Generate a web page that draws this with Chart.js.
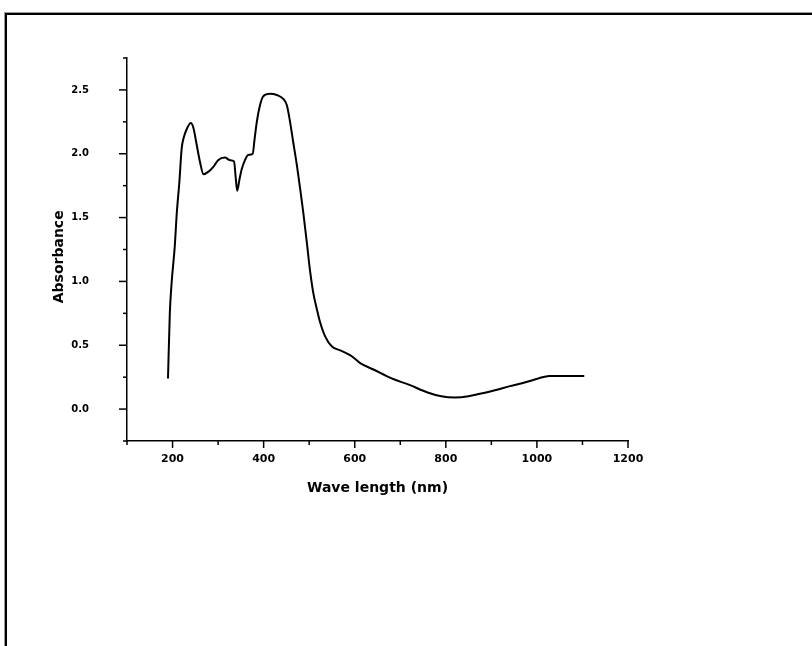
<!DOCTYPE html>
<html>
<head>
<meta charset="utf-8">
<script src="https://cdn.jsdelivr.net/npm/chart.js@4/dist/chart.umd.min.js"></script>
<style>
  html, body { margin: 0; padding: 0; background: #fff; }
  #wrap { position: relative; width: 812px; height: 646px; overflow: hidden; background: #fff; }
  #frame { position: absolute; left: 5px; top: 13px; width: 900px; height: 700px;
           border-left: 2px solid #000; border-top: 2px solid #000;
           box-shadow: -1px -1px 0 #9a9a9a; }
  canvas { position: absolute; left: 0; top: 0; }
</style>
</head>
<body>
<div id="wrap">
  <div id="frame"></div>
  <canvas id="c" width="812" height="646"></canvas>
</div>
<script>
// ---- data ----
const wavelength = [190, 194, 198, 205, 209, 215, 220, 224, 232, 240, 246, 253, 260, 268, 279, 290, 300, 315, 326, 335, 339, 342, 347, 352, 359, 366, 376, 380, 385, 392, 399, 414, 429, 443, 451, 458, 465, 473, 480, 487, 495, 502, 509, 517, 524, 535, 550, 568, 580, 595, 612, 641, 681, 720, 760, 790, 820, 850, 875, 910, 941, 975, 1003, 1027, 1060, 1104];
const absorbance = [0.24, 0.75, 0.99, 1.28, 1.52, 1.78, 2.04, 2.12, 2.20, 2.24, 2.20, 2.07, 1.94, 1.84, 1.86, 1.90, 1.95, 1.97, 1.95, 1.94, 1.80, 1.71, 1.80, 1.88, 1.95, 1.99, 2.00, 2.11, 2.25, 2.38, 2.45, 2.47, 2.46, 2.43, 2.38, 2.25, 2.09, 1.91, 1.73, 1.54, 1.30, 1.08, 0.91, 0.78, 0.68, 0.57, 0.49, 0.46, 0.44, 0.41, 0.36, 0.31, 0.24, 0.19, 0.13, 0.10, 0.09, 0.10, 0.12, 0.15, 0.18, 0.21, 0.24, 0.26, 0.26, 0.26];

const xTickValues = [100, 200, 300, 400, 500, 600, 700, 800, 900, 1000, 1100, 1200];
const xTickLabels = ['', '200', '', '400', '', '600', '', '800', '', '1000', '', '1200'];
const yTickValues = [-0.25, 0, 0.25, 0.5, 0.75, 1.0, 1.25, 1.5, 1.75, 2.0, 2.25, 2.5, 2.75];
const yTickLabels = ['', '0.0', '', '0.5', '', '1.0', '', '1.5', '', '2.0', '', '2.5', ''];

const xTitle = 'Wave length (nm)';
const yTitle = 'Absorbance';

const points = wavelength.map((w, i) => ({ x: w, y: absorbance[i] }));

const tickMarks = {
  id: 'tickMarks',
  afterDraw(chart) {
    const ctx = chart.ctx;
    const xs = chart.scales.x, ys = chart.scales.y;
    ctx.save();
    ctx.strokeStyle = '#000';
    ctx.lineWidth = 1.5;
    xs.ticks.forEach((t, i) => {
      const px = xs.getPixelForValue(t.value);
      const len = xTickLabels[i] ? 7 : 4;
      ctx.beginPath(); ctx.moveTo(px, xs.top); ctx.lineTo(px, xs.top + len); ctx.stroke();
    });
    ys.ticks.forEach((t, i) => {
      const py = ys.getPixelForValue(t.value);
      const len = yTickLabels[i] ? 8 : 4;
      ctx.beginPath(); ctx.moveTo(ys.right, py); ctx.lineTo(ys.right - len, py); ctx.stroke();
    });
    ctx.restore();
  }
};

new Chart(document.getElementById('c'), {
  type: 'line',
  data: {
    datasets: [{
      data: points,
      borderColor: '#000',
      borderWidth: 2,
      pointRadius: 0,
      cubicInterpolationMode: 'monotone',
      fill: false
    }]
  },
  options: {
    responsive: false,
    animation: false,
    devicePixelRatio: 1,
    layout: { padding: { left: 0, top: 58, right: 184, bottom: 149 } },
    plugins: { legend: { display: false }, tooltip: { enabled: false } },
    scales: {
      x: {
        type: 'linear',
        min: 100, max: 1200,
        afterBuildTicks: s => { s.ticks = xTickValues.map(v => ({ value: v })); },
        afterFit: s => { s.height = 56; s.paddingLeft = 0; s.paddingRight = 0; },
        border: { display: true, color: '#000', width: 1.5 },
        grid: { display: true, drawOnChartArea: false, drawTicks: false, color: 'rgba(0,0,0,0)' },
        ticks: {
          autoSkip: false, maxRotation: 0, padding: 12, color: '#000',
          font: { family: 'DejaVu Sans', size: 11, weight: 'bold' },
          callback: (v, i) => xTickLabels[i]
        },
        title: {
          display: true, text: xTitle, color: '#000',
          font: { family: 'DejaVu Sans', size: 14, weight: 'bold' },
          padding: { top: 0, bottom: 0 }
        }
      },
      y: {
        type: 'linear',
        min: -0.25, max: 2.75,
        afterBuildTicks: s => { s.ticks = yTickValues.map(v => ({ value: v })); },
        afterFit: s => { s.width = 127; s.paddingTop = 0; s.paddingBottom = 0; },
        border: { display: true, color: '#000', width: 1.5 },
        grid: { display: true, drawOnChartArea: false, drawTicks: false, color: 'rgba(0,0,0,0)' },
        ticks: {
          autoSkip: false, padding: 38, color: '#000',
          font: { family: 'DejaVu Sans', size: 10, weight: 'bold' },
          callback: (v, i) => yTickLabels[i]
        },
        title: {
          display: true, text: yTitle + '   ', color: '#000',
          font: { family: 'DejaVu Sans', size: 14, weight: 'bold' },
          padding: { top: 51, bottom: 0 }
        }
      }
    }
  },
  plugins: [tickMarks]
});
</script>
</body>
</html>
